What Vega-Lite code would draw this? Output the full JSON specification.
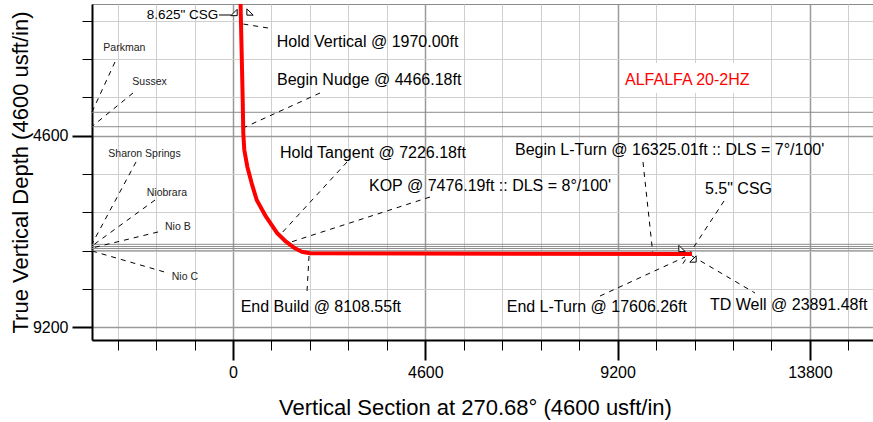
{
  "$schema": "https://vega.github.io/schema/vega-lite/v6.json",
  "width": 781,
  "height": 336,
  "autosize": {"type": "none"},
  "padding": {"left": 92, "top": 4, "right": 0, "bottom": 82},
  "background": "white",
  "config": {"view": {"stroke": "#8a8a8a", "strokeWidth": 1}, "font": "Liberation Sans"},
  "datasets": {
    "well": [
      {"i": 0, "vs": 179, "tvd": 1342},
      {"i": 1, "vs": 232, "tvd": 3743},
      {"i": 2, "vs": 246, "tvd": 4535},
      {"i": 3, "vs": 270, "tvd": 4943},
      {"i": 4, "vs": 342, "tvd": 5344},
      {"i": 5, "vs": 447, "tvd": 5743},
      {"i": 6, "vs": 567, "tvd": 6144},
      {"i": 7, "vs": 789, "tvd": 6545},
      {"i": 8, "vs": 1060, "tvd": 6943},
      {"i": 9, "vs": 1268, "tvd": 7145},
      {"i": 10, "vs": 1483, "tvd": 7304},
      {"i": 11, "vs": 1643, "tvd": 7385},
      {"i": 12, "vs": 1842, "tvd": 7424},
      {"i": 13, "vs": 10979, "tvd": 7440}
    ],
    "formations": [
      {"name": "Parkman", "vs": -3373, "vs2": 15309, "tvd": 4038, "tvd2": 4038},
      {"name": "Sussex", "vs": -3373, "vs2": 15309, "tvd": 4384, "tvd2": 4384},
      {"name": "Sharon Springs", "vs": -3373, "vs2": 15309, "tvd": 7208, "tvd2": 7208},
      {"name": "Niobrara", "vs": -3373, "vs2": 15309, "tvd": 7261, "tvd2": 7261},
      {"name": "Nio B", "vs": -3373, "vs2": 15309, "tvd": 7309, "tvd2": 7309},
      {"name": "Nio C", "vs": -3373, "vs2": 15309, "tvd": 7362, "tvd2": 7362}
    ],
    "leaders": [
      {"name": "Hold Vertical", "vs": 837, "tvd": 2014, "vs2": 239, "tvd2": 1918},
      {"name": "Begin Nudge", "vs": 2081, "tvd": 3575, "vs2": 239, "tvd2": 4415},
      {"name": "Hold Tangent", "vs": 2727, "tvd": 5231, "vs2": 1124, "tvd2": 6984},
      {"name": "KOP", "vs": 4712, "tvd": 6072, "vs2": 1316, "tvd2": 7176},
      {"name": "End Build", "vs": 1818, "tvd": 7488, "vs2": 1770, "tvd2": 8353},
      {"name": "Begin L-Turn", "vs": 9807, "tvd": 5231, "vs2": 10046, "tvd2": 7464},
      {"name": "5.5 CSG", "vs": 11745, "tvd": 6168, "vs2": 10692, "tvd2": 7777},
      {"name": "End L-Turn", "vs": 8779, "tvd": 8449, "vs2": 10812, "tvd2": 7512},
      {"name": "TD Well", "vs": 10979, "tvd": 7488, "vs2": 12486, "tvd2": 8377},
      {"name": "Parkman", "vs": -2823, "tvd": 2830, "vs2": -3373, "tvd2": 4031},
      {"name": "Sussex", "vs": -2392, "tvd": 3575, "vs2": -3373, "tvd2": 4379},
      {"name": "Sharon Springs", "vs": -2320, "tvd": 5231, "vs2": -3373, "tvd2": 7200},
      {"name": "Niobrara", "vs": -1866, "tvd": 6144, "vs2": -3373, "tvd2": 7248},
      {"name": "Nio B", "vs": -1794, "tvd": 6912, "vs2": -3373, "tvd2": 7296},
      {"name": "Nio C", "vs": -3373, "tvd": 7368, "vs2": -1555, "tvd2": 7897}
    ],
    "csgline": [
      {"name": "8.625 CSG", "vs": -335, "tvd": 1702, "vs2": -48, "tvd2": 1702}
    ],
    "casing": [
      {"marker": "8.625 left", "vs": 24, "tvd": 1642},
      {"marker": "8.625 right", "vs": 407, "tvd": 1630},
      {"marker": "5.5 upper", "vs": 10740, "tvd": 7308},
      {"marker": "5.5 lower", "vs": 11003, "tvd": 7560}
    ],
    "namebox": [
      {"vs": 9257, "vs2": 12606, "tvd": 2854, "tvd2": 3575}
    ],
    "labels": [
      {"group": "ann", "text": "Hold Vertical @ 1970.00ft", "vs": 1045, "tvd": 2343},
      {"group": "ann", "text": "Begin Nudge @ 4466.18ft", "vs": 1052, "tvd": 3263},
      {"group": "ann", "text": "Hold Tangent @ 7226.18ft", "vs": 1124, "tvd": 5015},
      {"group": "ann", "text": "KOP @ 7476.19ft :: DLS = 8°/100'", "vs": 3253, "tvd": 5808},
      {"group": "ann", "text": "Begin L-Turn @ 16325.01ft :: DLS = 7°/100'", "vs": 6745, "tvd": 4955},
      {"group": "ann", "text": "5.5\" CSG", "vs": 11290, "tvd": 5880},
      {"group": "ann", "text": "End Build @ 8108.55ft", "vs": 184, "tvd": 8706},
      {"group": "ann", "text": "End L-Turn @ 17606.26ft", "vs": 6547, "tvd": 8713},
      {"group": "ann", "text": "TD Well @ 23891.48ft", "vs": 11410, "tvd": 8665},
      {"group": "csg", "text": "8.625\"  CSG", "vs": -2064, "tvd": 1702},
      {"group": "name", "text": "ALFALFA  20-2HZ", "vs": 9377, "tvd": 3263},
      {"group": "fm", "text": "Parkman", "vs": -3102, "tvd": 2502},
      {"group": "fm", "text": "Sussex", "vs": -2409, "tvd": 3303},
      {"group": "fm", "text": "Sharon  Springs", "vs": -2983, "tvd": 5039},
      {"group": "fm", "text": "Niobrara", "vs": -2064, "tvd": 5969},
      {"group": "fm", "text": "Nio  B", "vs": -1627, "tvd": 6785},
      {"group": "fm", "text": "Nio  C", "vs": -1466, "tvd": 7981}
    ]
  },
  "encoding": {
    "x": {
      "field": "vs",
      "type": "quantitative",
      "scale": {"domain": [-3373, 15309], "nice": false, "zero": false},
      "axis": {
        "title": "Vertical Section at 270.68° (4600 usft/in)",
        "values": [-2760, -1840, -920, 0, 920, 1840, 2760, 3680, 4600, 5520, 6440, 7360, 8280, 9200, 10120, 11040, 11960, 12880, 13800, 14720],
        "format": "d",
        "labelExpr": "datum.value % 4600 === 0 ? datum.label : ''",
        "grid": true,
        "gridColor": {"condition": {"test": "datum.value % 4600 === 0", "value": "#9a9a9a"}, "value": "#cfcfcf"},
        "gridWidth": {"condition": {"test": "datum.value % 4600 === 0", "value": 1.5}, "value": 1},
        "tickSize": {"condition": {"test": "datum.value % 4600 === 0", "value": 20}, "value": 10},
        "tickWidth": {"condition": {"test": "datum.value % 4600 === 0", "value": 2}, "value": 1},
        "tickColor": "black",
        "domainColor": "black",
        "domainWidth": 2,
        "labelFont": "Liberation Sans",
        "labelFontSize": 16,
        "labelColor": "black",
        "labelPadding": 4,
        "labelFlush": false,
        "labelOverlap": false,
        "titleFont": "Liberation Sans",
        "titleFontSize": 22,
        "titleFontWeight": "normal",
        "titleColor": "black",
        "titleX": 383,
        "titleY": 67,
        "titleBaseline": "middle"
      }
    },
    "y": {
      "field": "tvd",
      "type": "quantitative",
      "scale": {"domain": [1438, 9505], "reverse": true, "nice": false, "zero": false},
      "axis": {
        "title": "True Vertical Depth (4600 usft/in)",
        "values": [1840, 2760, 3680, 4600, 5520, 6440, 7360, 8280, 9200],
        "format": "d",
        "labelExpr": "datum.value % 4600 === 0 ? datum.label : ''",
        "grid": true,
        "gridColor": {"condition": {"test": "datum.value % 4600 === 0", "value": "#9a9a9a"}, "value": "#cfcfcf"},
        "gridWidth": {"condition": {"test": "datum.value % 4600 === 0", "value": 1.5}, "value": 1},
        "tickSize": {"condition": {"test": "datum.value % 4600 === 0", "value": 20}, "value": 10},
        "tickWidth": {"condition": {"test": "datum.value % 4600 === 0", "value": 2}, "value": 1},
        "tickColor": "black",
        "domainColor": "black",
        "domainWidth": 2,
        "labelFont": "Liberation Sans",
        "labelFontSize": 16,
        "labelColor": "black",
        "labelPadding": 4,
        "labelFlush": false,
        "labelOverlap": false,
        "titleFont": "Liberation Sans",
        "titleFontSize": 22,
        "titleFontWeight": "normal",
        "titleColor": "black",
        "titleX": -72,
        "titleY": 168,
        "titleAngle": -90,
        "titleBaseline": "middle",
        "titleAlign": "center"
      }
    }
  },
  "layer": [
    {
      "data": {"name": "formations"},
      "mark": {"type": "rule", "color": "#8c8c8c", "strokeWidth": 1},
      "encoding": {"x2": {"field": "vs2"}, "y2": {"field": "tvd2"}}
    },
    {
      "data": {"name": "leaders"},
      "mark": {"type": "rule", "color": "black", "strokeWidth": 1, "strokeDash": [5, 5]},
      "encoding": {"x2": {"field": "vs2"}, "y2": {"field": "tvd2"}}
    },
    {
      "data": {"name": "csgline"},
      "mark": {"type": "rule", "color": "black", "strokeWidth": 1},
      "encoding": {"x2": {"field": "vs2"}, "y2": {"field": "tvd2"}}
    },
    {
      "data": {"name": "well"},
      "mark": {"type": "line", "color": "#ff0000", "strokeWidth": 4, "strokeJoin": "round", "clip": true},
      "encoding": {"order": {"field": "i", "type": "quantitative"}}
    },
    {
      "data": {"name": "casing"},
      "mark": {"type": "point", "filled": true, "fill": "white", "stroke": "black", "strokeWidth": 1, "size": 40, "opacity": 1},
      "encoding": {
        "shape": {
          "field": "marker",
          "type": "nominal",
          "scale": {
            "domain": ["8.625 left", "8.625 right", "5.5 upper", "5.5 lower"],
            "range": ["M 1 -1 L 1 1 L -1 1 Z", "M -1 -1 L -1 1 L 1 1 Z", "M -1 -1 L -1 1 L 1 1 Z", "M 1 -1 L 1 1 L -1 1 Z"]
          },
          "legend": null
        }
      }
    },
    {
      "data": {"name": "namebox"},
      "mark": {"type": "rect", "fill": "white"},
      "encoding": {"x2": {"field": "vs2"}, "y2": {"field": "tvd2"}}
    },
    {
      "data": {"name": "labels"},
      "transform": [{"filter": "datum.group === 'ann'"}],
      "mark": {"type": "text", "align": "left", "baseline": "middle", "font": "Liberation Sans", "fontSize": 16, "color": "black"},
      "encoding": {"text": {"field": "text"}}
    },
    {
      "data": {"name": "labels"},
      "transform": [{"filter": "datum.group === 'csg'"}],
      "mark": {"type": "text", "align": "left", "baseline": "middle", "font": "Liberation Sans", "fontSize": 13.5, "color": "black"},
      "encoding": {"text": {"field": "text"}}
    },
    {
      "data": {"name": "labels"},
      "transform": [{"filter": "datum.group === 'name'"}],
      "mark": {"type": "text", "align": "left", "baseline": "middle", "font": "Liberation Sans", "fontSize": 16, "color": "#ff0000"},
      "encoding": {"text": {"field": "text"}}
    },
    {
      "data": {"name": "labels"},
      "transform": [{"filter": "datum.group === 'fm'"}],
      "mark": {"type": "text", "align": "left", "baseline": "middle", "font": "Liberation Sans", "fontSize": 10.5, "color": "#222222"},
      "encoding": {"text": {"field": "text"}}
    }
  ]
}
